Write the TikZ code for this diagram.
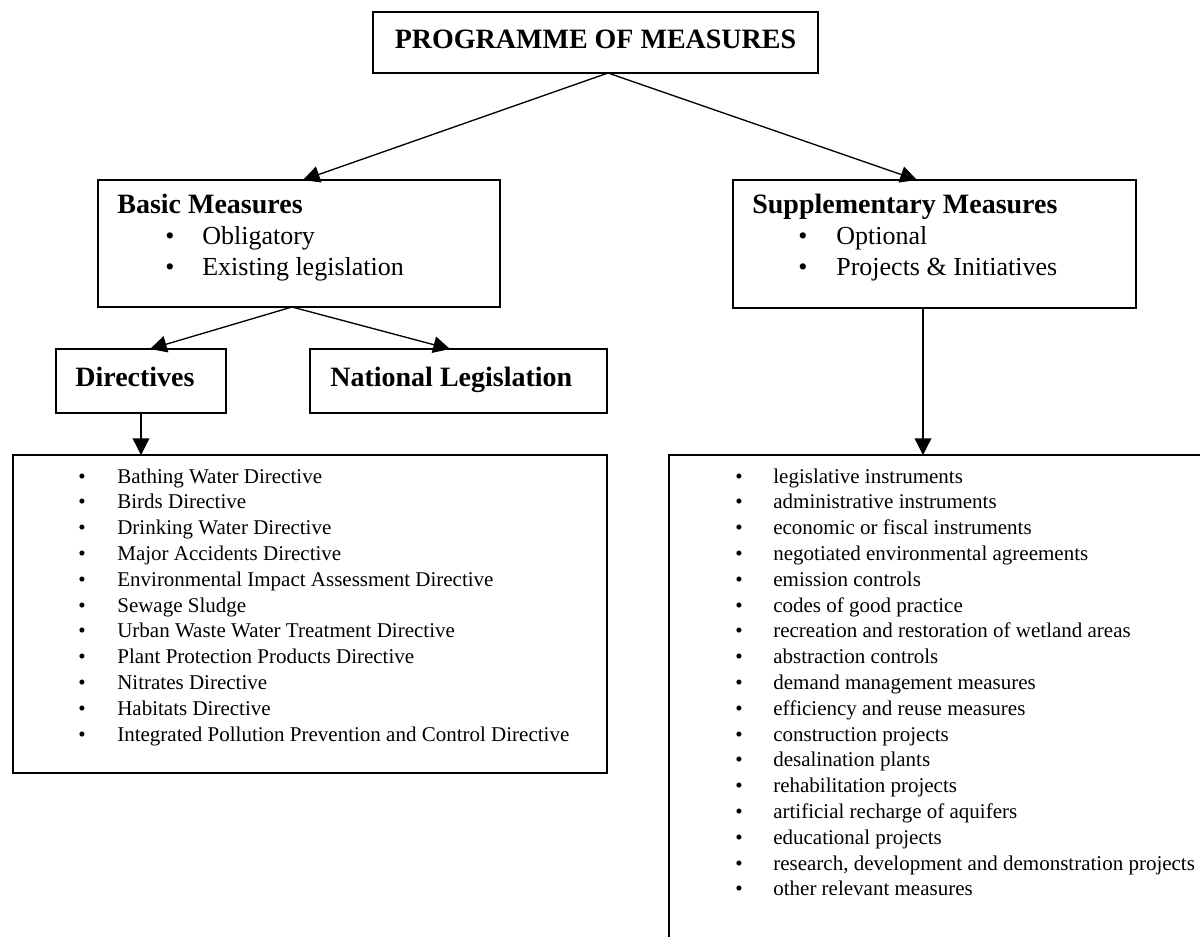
\documentclass[tikz,border=0pt]{standalone}
\usepackage{fontspec}
\setmainfont{Liberation Serif}
\usetikzlibrary{arrows.meta}
\newcommand{\headfont}{\fontsize{16.8}{20}\selectfont\bfseries}
\newcommand{\boxfont}{\fontsize{15.6}{19}\selectfont}
\newcommand{\listfont}{\fontsize{12.6}{15}\selectfont}
\tikzset{
  box/.style={draw, line width=0.8pt, inner sep=0pt, outer sep=0pt, anchor=north west},
  head/.style={font=\headfont, anchor=base west, inner sep=0pt},
  boxitem/.style={font=\boxfont, anchor=base west, inner sep=0pt},
  listitem/.style={font=\listfont, anchor=base west, inner sep=0pt},
  arr/.style={-{Triangle[length=10pt,width=10pt]}, line width=0.8pt}
}
\begin{document}
\begin{tikzpicture}[x=0.6pt, y=-0.6pt]
  \path[use as bounding box, clip] (0,0) rectangle (1200,936);

  % boxes
  \node[box, minimum width=267pt, minimum height=36.6pt] (pom) at (373,12) {};
  \node[box, minimum width=241.2pt, minimum height=76.2pt] (basic) at (98,180) {};
  \node[box, minimum width=241.8pt, minimum height=76.8pt] (supp) at (733,180) {};
  \node[box, minimum width=102pt, minimum height=38.4pt] (dirs) at (56,349) {};
  \node[box, minimum width=178.2pt, minimum height=38.4pt] (natleg) at (310,349) {};
  \node[box, minimum width=356.4pt, minimum height=190.8pt] (dirlist) at (13,455) {};
  \node[box, minimum width=324.6pt, minimum height=297pt] (supplist) at (669,455) {};

  % headings
  \node[head, anchor=base] (pomtxt) at (595.5,48) {PROGRAMME OF MEASURES};
  \node[head] (basictxt) at (117,213) {Basic Measures};
  \node[head] (supptxt) at (752,213) {Supplementary Measures};
  \node[head] (dirstxt) at (75,386) {Directives};
  \node[head] (natlegtxt) at (330,386) {National Legislation};

  % bullets in the upper boxes
  \foreach \txt [count=\i from 0] in {Obligatory, Existing legislation} {
    \node[boxitem] (basicb\i) at (165,{244+31*\i}) {•};
    \node[boxitem] (basici\i) at (202,{244+31*\i}) {\txt};
  }
  \foreach \txt [count=\i from 0] in {Optional, Projects \& Initiatives} {
    \node[boxitem] (suppb\i) at (798,{244+31*\i}) {•};
    \node[boxitem] (suppi\i) at (836,{244+31*\i}) {\txt};
  }

  % lists
  \foreach \txt [count=\i from 0] in {Bathing Water Directive, Birds Directive,
      Drinking Water Directive, Major Accidents Directive,
      Environmental Impact Assessment Directive, Sewage Sludge,
      Urban Waste Water Treatment Directive, Plant Protection Products Directive,
      Nitrates Directive, Habitats Directive,
      Integrated Pollution Prevention and Control Directive} {
    \node[listitem] (dirb\i) at (78,{483+25.8*\i}) {•};
    \node[listitem] (diri\i) at (117,{483+25.8*\i}) {\txt};
  }
  \foreach \txt [count=\i from 0] in {legislative instruments, administrative instruments,
      economic or fiscal instruments, negotiated environmental agreements,
      emission controls, codes of good practice,
      recreation and restoration of wetland areas, abstraction controls,
      demand management measures, efficiency and reuse measures,
      construction projects, desalination plants, rehabilitation projects,
      artificial recharge of aquifers, educational projects,
      {research, development and demonstration projects}, other relevant measures} {
    \node[listitem] (supplb\i) at (735,{483+25.8*\i}) {•};
    \node[listitem] (suppl\i) at (773,{483+25.8*\i}) {\txt};
  }

  % arrows
  \draw[arr] ([xshift=7.5pt]pom.south) -- ([xshift=2.4pt]basic.north);
  \draw[arr] ([xshift=7.5pt]pom.south) -- ([xshift=-10.5pt]supp.north);
  \draw[arr] ([xshift=-4.2pt]basic.south) -- ([xshift=5.4pt]dirs.north);
  \draw[arr] ([xshift=-4.2pt]basic.south) -- ([xshift=-5.1pt]natleg.north);
  \draw[arr] (dirs.south) -- (dirs.south |- dirlist.north);
  \coordinate (suppdrop) at ([xshift=-6.9pt]supp.south);
  \draw[arr] (suppdrop) -- (suppdrop |- supplist.north);
\end{tikzpicture}
\end{document}
